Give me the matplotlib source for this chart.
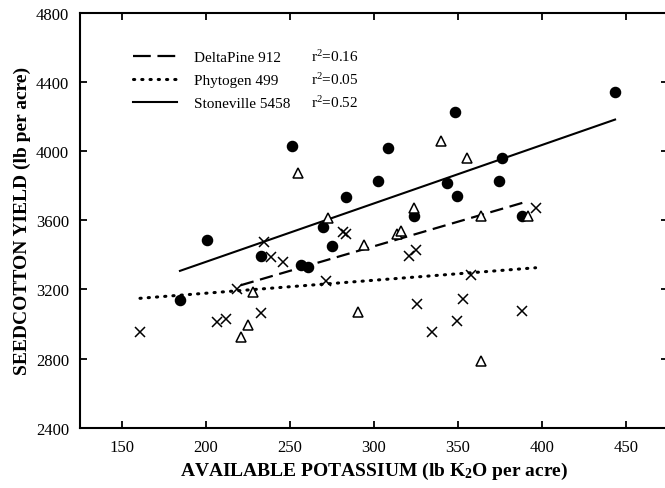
import numpy as np
import matplotlib
matplotlib.use('Agg')
import matplotlib.pyplot as plt
from matplotlib.lines import Line2D

# --- Data ---
# Stoneville 5458 (filled circles, solid fit)
sv_k = [184.5, 200.4, 232.7, 251.0, 256.5, 260.5, 269.8, 274.8, 283.3, 302.2,
        308.5, 323.8, 343.3, 348.2, 349.2, 374.6, 376.0, 387.9, 443.5]
sv_yield = [3141, 3487, 3396, 4033, 3344, 3332, 3564, 3454, 3734, 3830,
            4019, 3627, 3817, 4226, 3743, 3827, 3960, 3627, 4342]

# DeltaPine 912 (open triangles, dashed fit)
dp_k = [220.7, 225.2, 228.2, 254.6, 272.4, 290.7, 294.0, 313.4, 316.1, 323.8,
        339.9, 355.5, 363.7, 363.7, 391.8]
dp_yield = [2923, 2995, 3184, 3875, 3614, 3068, 3460, 3519, 3536, 3670,
            4058, 3962, 3624, 2788, 3627]

# Phytogen 499 (x markers, dotted fit)
ph_k = [160.7, 206.4, 211.9, 218.3, 232.7, 234.5, 238.7, 246.0, 271.3, 281.4,
        283.5, 320.8, 325.0, 325.4, 334.7, 349.2, 353.2, 357.6, 387.9, 396.2]
ph_yield = [2952, 3010, 3029, 3203, 3062, 3473, 3390, 3358, 3251, 3531,
            3520, 3396, 3431, 3116, 2952, 3020, 3145, 3286, 3074, 3670]

series_names = ['DeltaPine 912', 'Phytogen 499', 'Stoneville 5458']
r2_labels = ['0.16', '0.05', '0.52']

x_ticks = [150, 200, 250, 300, 350, 400, 450]
y_ticks = [2400, 2800, 3200, 3600, 4000, 4400, 4800]

# --- Style ---
plt.rcParams['font.family'] = ['Liberation Serif', 'DejaVu Serif']
plt.rcParams['mathtext.fontset'] = 'custom'
plt.rcParams['mathtext.rm'] = 'Liberation Serif'
plt.rcParams['mathtext.it'] = 'Liberation Serif:italic'
plt.rcParams['mathtext.bf'] = 'Liberation Serif:bold'


def fit_line(x, y):
    """Least squares fit over the range of the data."""
    slope, intercept = np.polyfit(x, y, 1)
    xs = np.array([min(x), max(x)])
    return xs, slope * xs + intercept


fig = plt.figure(figsize=(6.65, 4.89), dpi=100)
ax = fig.add_axes([0.1203, 0.1233, 0.8842, 0.8481])

# points
ax.plot(sv_k, sv_yield, 'o', color='black', markersize=7.3, zorder=3)
ax.plot(dp_k, dp_yield, '^', markerfacecolor='white', markeredgecolor='black',
        markersize=7.5, markeredgewidth=1.1, zorder=4)
ax.plot(ph_k, ph_yield, 'x', color='black', markersize=7.5,
        markeredgewidth=1.1, zorder=4)

# regression lines
dash_style = (0, (6, 3))
dot_style = (0, (0.4, 2.3))

xs, ys = fit_line(dp_k, dp_yield)
ax.plot(xs, ys, color='black', lw=1.6, linestyle=dash_style, zorder=2)
xs, ys = fit_line(ph_k, ph_yield)
ax.plot(xs, ys, color='black', lw=2.2, linestyle=dot_style,
        dash_capstyle='round', zorder=2)
xs, ys = fit_line(sv_k, sv_yield)
ax.plot(xs, ys, color='black', lw=1.5, zorder=2)

# axes
ax.set_xlim(125, 475)
ax.set_ylim(2400, 4800)
ax.set_xticks(x_ticks)
ax.set_yticks(y_ticks)
ax.tick_params(direction='in', length=5, width=1.3, top=True, right=True,
               labelsize=12, colors='black')
ax.tick_params(axis='x', pad=8)
ax.tick_params(axis='y', pad=8)
for sp in ax.spines.values():
    sp.set_linewidth(1.5)

ax.set_xlabel(r'AVAILABLE POTASSIUM (lb K$_{\mathbf{2}}$O per acre)',
              fontsize=14, fontweight='bold', labelpad=4)
ax.set_ylabel('SEEDCOTTON YIELD (lb per acre)', fontsize=14,
              fontweight='bold', labelpad=3)

# legend
handles = [
    Line2D([], [], color='black', lw=1.6, linestyle=(0, (8, 3))),
    Line2D([], [], color='black', lw=2.2, linestyle=dot_style,
           dash_capstyle='round'),
    Line2D([], [], color='black', lw=1.5),
]
ax.legend(handles, series_names, loc='upper left',
          bbox_to_anchor=(0.0896, 0.909), frameon=False, fontsize=11,
          handlelength=2.9, handletextpad=1.1, labelspacing=0.6,
          borderpad=0, borderaxespad=0)

r2_y = [0.8956, 0.8408, 0.786]
for yy, r2 in zip(r2_y, r2_labels):
    ax.text(0.393, yy, r'r$^2$=' + r2, transform=ax.transAxes, fontsize=11,
            va='center', ha='left')

fig.savefig('out.png', dpi=100)
